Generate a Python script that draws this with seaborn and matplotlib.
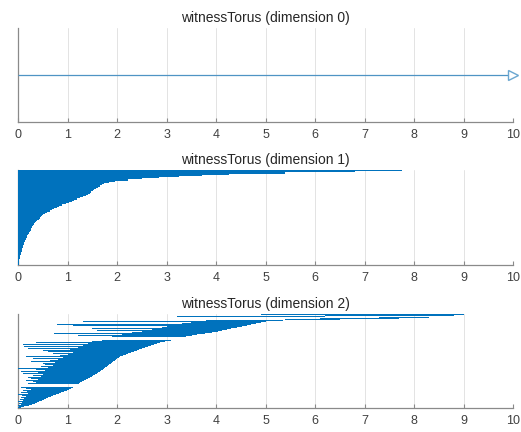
import numpy as np
import matplotlib
matplotlib.use("Agg")
import matplotlib.pyplot as plt
import seaborn as sns

sns.set_theme(style="white")
plt.rcParams['font.family'] = ['Liberation Sans', 'DejaVu Sans']

titles = ["witnessTorus (dimension 0)", "witnessTorus (dimension 1)", "witnessTorus (dimension 2)"]
x_ticks = [0, 1, 2, 3, 4, 5, 6, 7, 8, 9, 10]

# dimension 0: one infinite interval
dim0_births = [0.0]
dim0_deaths = [10.0]

# dimension 1: intervals born at 0, sorted by death
dim1_deaths = [
    0.005, 0.008, 0.012, 0.017, 0.022, 0.028, 0.034, 0.040, 0.046, 0.052,
    0.059, 0.066, 0.073, 0.081, 0.088, 0.096, 0.104, 0.112, 0.120, 0.128,
    0.137, 0.149, 0.161, 0.174, 0.186, 0.198, 0.211, 0.224, 0.236, 0.249,
    0.262, 0.274, 0.287, 0.299, 0.318, 0.340, 0.365, 0.388, 0.410, 0.435,
    0.458, 0.480, 0.505, 0.545, 0.590, 0.640, 0.680, 0.730, 0.780, 0.830,
    0.880, 0.960, 1.020, 1.080, 1.130, 1.190, 1.240, 1.300, 1.360, 1.400,
    1.440, 1.470, 1.510, 1.540, 1.580, 1.620, 1.650, 1.690, 1.730, 1.840,
    1.960, 2.220, 2.500, 2.850, 3.250, 3.720, 4.250, 5.400, 6.800, 7.760,
]
dim1_births = [0.0] * len(dim1_deaths)

# dimension 2
dim2_births = [
    0.00, 0.02, 0.00, 0.05, 0.02, 0.08, 0.00, 0.10, 0.04, 0.12,
    0.05, 0.15, 0.08, 0.00, 0.20, 0.05, 0.18, 0.10, 0.25, 0.15,
    0.05, 0.30, 0.00, 0.20, 0.35, 0.30, 0.15, 0.40, 0.25, 0.20,
    0.45, 0.30, 0.50, 0.10, 0.40, 0.05, 0.55, 0.35, 0.00, 0.60,
    0.45, 0.70, 0.55, 0.50, 0.75, 0.25, 0.65, 0.80, 0.30, 0.90,
    0.15, 0.85, 1.00, 0.70, 1.10, 0.60, 0.50, 1.05, 0.20, 1.20,
    0.12, 1.30, 0.10, 1.40, 0.35, 1.50, 1.70, 0.45, 1.10, 1.90,
    1.20, 2.10, 0.72, 2.30, 2.50, 1.60, 2.70, 1.50, 2.90, 3.00,
    1.10, 0.78, 3.30, 3.50, 1.31, 3.80,
    5.40, 6.10, 7.30, 3.20, 6.20, 4.90,
]
dim2_deaths = [
    0.05, 0.12, 0.21, 0.28, 0.33, 0.38, 0.42, 0.47, 0.51, 0.56,
    0.61, 0.66, 0.71, 0.77, 0.82, 0.87, 0.93, 0.98, 1.03, 1.06,
    1.10, 1.14, 1.18, 1.22, 1.25, 1.29, 1.33, 1.37, 1.41, 1.44,
    1.48, 1.52, 1.56, 1.59, 1.62, 1.65, 1.68, 1.71, 1.73, 1.76,
    1.79, 1.81, 1.84, 1.87, 1.90, 1.92, 1.95, 1.98, 2.00, 2.03,
    2.06, 2.12, 2.17, 2.22, 2.28, 2.33, 2.39, 2.44, 2.50, 2.56,
    2.62, 2.68, 2.74, 2.80, 2.87, 2.97, 3.08, 3.19, 3.30, 3.40,
    3.51, 3.62, 3.77, 3.92, 4.03, 4.12, 4.21, 4.31, 4.43, 4.53,
    4.62, 4.71, 4.80, 4.90, 5.00, 5.35,
    6.50, 7.70, 8.30, 6.20, 8.80, 9.02,
]

bar_color = "#0072BD"
spine_color = "#8a8a8a"

fig = plt.figure(figsize=(5.21, 4.32), dpi=100)
rects = [
    [0.0351, 0.7176, 0.9495, 0.2176],
    [0.0351, 0.3866, 0.9495, 0.2200],
    [0.0351, 0.0556, 0.9495, 0.2176],
]
axes = [fig.add_axes(r) for r in rects]

# dimension 0
ax = axes[0]
ax.hlines([1], dim0_births, dim0_deaths, color="#4f94c4", lw=0.9, zorder=3)
ax.plot([dim0_deaths[0]], [1], marker=">", ms=6.5, mfc="white", mec="#6aa6d0",
        mew=1.0, clip_on=False, zorder=4)
ax.set_ylim(0, 2)

# dimension 1
ax = axes[1]
n1 = len(dim1_deaths)
ax.barh(np.arange(n1), np.subtract(dim1_deaths, dim1_births), left=dim1_births,
        height=1.0, color=bar_color, lw=0, zorder=3)
ax.set_ylim(-0.5, n1 - 0.5)

# dimension 2
ax = axes[2]
n2 = len(dim2_deaths)
ax.barh(np.arange(n2), np.subtract(dim2_deaths, dim2_births), left=dim2_births,
        height=0.95, color=bar_color, lw=0, zorder=3)
ax.set_ylim(-0.5, n2 - 0.5)

for ax, title in zip(axes, titles):
    ax.set_xlim(0, 10)
    ax.set_xticks(x_ticks)
    ax.set_yticks([])
    ax.set_axisbelow(True)
    ax.grid(axis="x", color="#e3e3e3", lw=0.7)
    ax.grid(axis="y", visible=False)
    sns.despine(ax=ax, top=True, right=True)
    for side in ["left", "bottom"]:
        ax.spines[side].set_color(spine_color)
        ax.spines[side].set_linewidth(0.9)
    ax.tick_params(axis="x", direction="in", length=3, width=0.8, color=spine_color,
                   labelsize=9, labelcolor="#404040", pad=5, bottom=True)
    ax.set_title(title, fontsize=10, color="#262626", pad=4)

fig.savefig("out.png", dpi=100)
